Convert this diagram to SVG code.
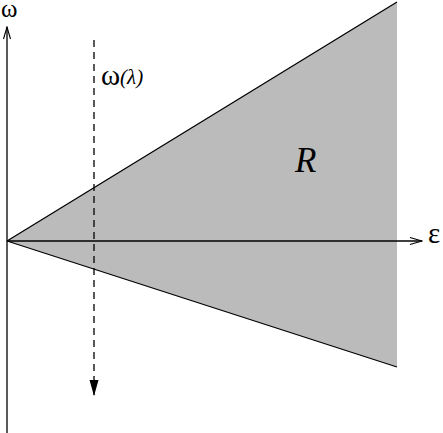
<svg xmlns="http://www.w3.org/2000/svg" width="443" height="433" viewBox="0 0 443 433">
<style>
.ax{stroke:#000;stroke-width:1.3;fill:none}
.t{font-family:"Liberation Serif","DejaVu Serif",serif;fill:#000}
</style>
<defs>
<marker id="open" markerWidth="14" markerHeight="10" refX="13" refY="5" orient="auto" markerUnits="userSpaceOnUse">
<path d="M1,1.5 L13,5 L1,8.5" fill="none" stroke="#000" stroke-width="1.1"/>
</marker>
<marker id="solid" markerWidth="17" markerHeight="10" refX="16" refY="4.5" orient="auto" markerUnits="userSpaceOnUse">
<path d="M0,0 L16,4.5 L0,9 Z" fill="#000"/>
</marker>
</defs>
<g id="region">
<polygon points="7,241 397,2 397,367" fill="#bbbbbb"/>
<path d="M7,241 L397,2 M7,241 L397,367" class="ax"/>
</g>
<g id="connectors">
<line x1="7" y1="433" x2="7" y2="27" class="ax" marker-end="url(#open)"/>
<line x1="7" y1="241" x2="422" y2="241" class="ax" marker-end="url(#open)"/>
<line x1="94" y1="40" x2="94" y2="396" stroke="#000" stroke-width="1.3" stroke-dasharray="7,5" marker-end="url(#solid)"/>
</g>
<g id="labels">
<text class="t" x="1" y="17" font-size="25">ω</text>
<text class="t" x="101" y="85" font-size="29">ω<tspan font-style="italic" font-size="21" dy="-1">(λ)</tspan></text>
<text class="t" x="295" y="172" font-size="35" font-style="italic">R</text>
<text class="t" x="428" y="243" font-size="29">ε</text>
</g>
</svg>
